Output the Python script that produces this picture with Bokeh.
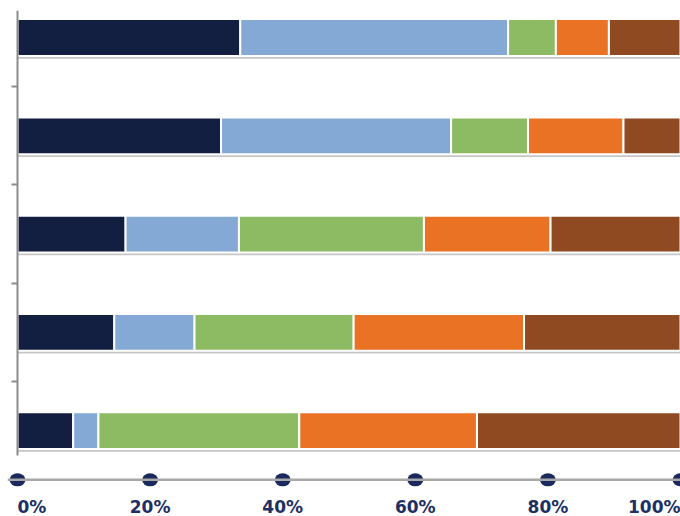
from bokeh.plotting import figure
from bokeh.models import ColumnDataSource, Range1d, FixedTicker, Span
from bokeh.transform import dodge
from bokeh.core.properties import value
from bokeh.embed import file_html
from bokeh.resources import INLINE

# ---- data (percent shares, rows listed top to bottom) ----
rows = [0, 1, 2, 3, 4]
series = ["navy", "light_blue", "green", "orange", "brown"]
navy = [33.6, 30.7, 16.3, 14.6, 8.4]
light_blue = [40.4, 34.7, 17.1, 12.1, 3.8]
green = [7.2, 11.6, 27.9, 24.0, 30.3]
orange = [8.0, 14.4, 19.1, 25.7, 26.8]
brown = [10.8, 8.6, 19.6, 23.6, 30.7]
tick_values = [0, 20, 40, 60, 80, 100]
tick_labels = ["0%", "20%", "40%", "60%", "80%", "100%"]

colors = ["#121f40", "#83a9d4", "#8cbb64", "#e97225", "#8f4a22"]
label_color = "#1d2f63"
dot_color = "#1b2a5c"

totals = [a + b + c + d + e for a, b, c, d, e in zip(navy, light_blue, green, orange, brown)]
source = ColumnDataSource(dict(row=rows, navy=navy, light_blue=light_blue, green=green,
                               orange=orange, brown=brown, total=totals))

p = figure(width=680, height=516, output_backend="svg", toolbar_location=None,
           x_range=Range1d(-1.508, 100), y_range=Range1d(4.873, -0.275),
           x_axis_location=None, min_border_left=7, min_border_right=0,
           min_border_top=10, min_border_bottom=0)
p.outline_line_color = None
p.grid.visible = False
p.background_fill_color = "white"

# left axis at 0%: line with small ticks between the rows
yax = p.yaxis[0]
yax.fixed_location = 0
yax.ticker = FixedTicker(ticks=[r + 0.5 for r in rows[:-1]])
yax.major_label_overrides = {r + 0.5: "" for r in rows[:-1]}
yax.major_label_text_font_size = "0px"
yax.major_label_standoff = 0
yax.major_tick_in = 0
yax.major_tick_out = 6
yax.minor_tick_line_color = None
yax.axis_line_color = "#8c8c8c"
yax.axis_line_width = 2
yax.major_tick_line_color = "#8c8c8c"
yax.major_tick_line_width = 2
yax.bounds = (-0.275, 4.25)

bar_h = 0.375
# soft shadow under each bar
p.hbar(y=dodge("row", 0.028, range=p.y_range), left=0, right="total", height=bar_h,
       source=source, fill_color="#8e8e8e", fill_alpha=0.5, line_color=None)

p.hbar_stack(series, y="row", height=bar_h, color=colors, source=source,
             line_color="white", line_width=2)

# bottom scale: gray line, navy dots and bold percent labels
axis_y = rows[-1] + 0.5
label_y = 4.78
p.add_layout(Span(location=axis_y, dimension="width", line_color="#a8a8a8", line_width=2.5))
p.ellipse(x=tick_values, y=[axis_y] * len(tick_values), width=16, height=13,
          width_units="screen", height_units="screen", fill_color=dot_color, line_color=None)

font = dict(text_font=value("DejaVu Sans"), text_font_style="bold", text_font_size="17px",
            text_color=label_color, text_baseline="alphabetic")
p.text(x=tick_values[:1], y=[label_y], text=tick_labels[:1], text_align="left", **font)
p.text(x=tick_values[1:-1], y=[label_y] * (len(tick_values) - 2), text=tick_labels[1:-1],
       text_align="center", **font)
p.text(x=tick_values[-1:], y=[label_y], text=tick_labels[-1:], text_align="right", **font)

open("out.html", "w").write(file_html(p, INLINE))
